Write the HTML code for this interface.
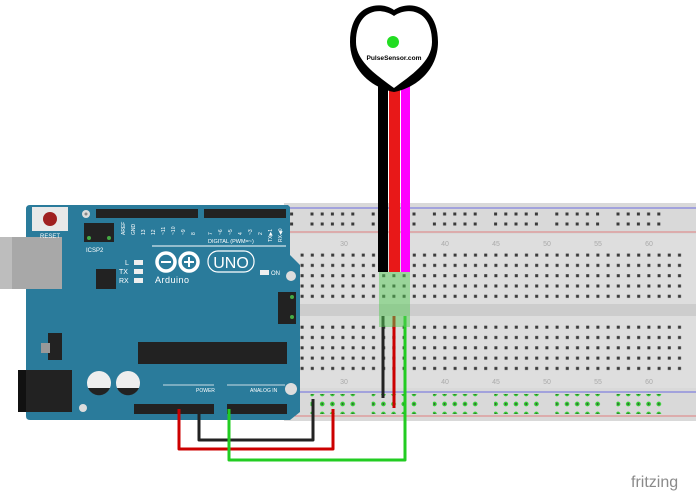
<!DOCTYPE html>
<html><head><meta charset="utf-8"><style>html,body{margin:0;padding:0;background:#fff}svg{display:block}</style></head>
<body>
<svg width="696" height="491" viewBox="0 0 696 491" xmlns="http://www.w3.org/2000/svg" font-family="Liberation Sans, sans-serif">
<defs>
<pattern id="g" x="297" y="250" width="10.2" height="10.3" patternUnits="userSpaceOnUse"><rect x="3.6" y="3.6" width="3" height="3" fill="#3a3a3a"/></pattern>
<pattern id="r" x="310.5" y="0" width="61.2" height="10" patternUnits="userSpaceOnUse">
<g fill="#3a3a3a"><rect x="0" y="2.5" width="3" height="3"/><rect x="10.2" y="2.5" width="3" height="3"/><rect x="20.4" y="2.5" width="3" height="3"/><rect x="30.6" y="2.5" width="3" height="3"/><rect x="40.8" y="2.5" width="3" height="3"/></g></pattern>
<pattern id="rg" x="310.5" y="0" width="61.2" height="10" patternUnits="userSpaceOnUse">
<g fill="#3a3a3a" stroke="#3c3" stroke-width="1.5"><circle cx="1.5" cy="4" r="1.6"/><circle cx="11.7" cy="4" r="1.6"/><circle cx="21.9" cy="4" r="1.6"/><circle cx="32.1" cy="4" r="1.6"/><circle cx="42.3" cy="4" r="1.6"/></g></pattern>
</defs>
<!-- breadboard -->
<rect x="284" y="203" width="412" height="218" fill="#d9d9d9"/>
<rect x="284" y="234" width="412" height="70" fill="#dedede"/>
<rect x="284" y="304" width="412" height="12" fill="#cdcdcd"/>
<rect x="284" y="316" width="412" height="72" fill="#dedede"/>
<line x1="284" y1="208" x2="696" y2="208" stroke="#6a6ae0" stroke-width="1"/>
<line x1="284" y1="232" x2="696" y2="232" stroke="#e08080" stroke-width="1"/>
<line x1="284" y1="392" x2="696" y2="392" stroke="#6a6ae0" stroke-width="1"/>
<line x1="284" y1="416" x2="696" y2="416" stroke="#e08080" stroke-width="1"/>
<rect x="290" y="210" width="375" height="20" fill="url(#r)"/>
<rect x="290" y="394" width="375" height="20" fill="url(#rg)"/>
<rect x="297" y="250" width="388" height="51.5" fill="url(#g)"/>
<rect x="297" y="322" width="388" height="51.5" fill="url(#g)"/>
<g font-size="7" fill="#aaa" text-anchor="middle">
<text x="344" y="246">30</text><text x="445" y="246">40</text><text x="496" y="246">45</text><text x="547" y="246">50</text><text x="598" y="246">55</text><text x="649" y="246">60</text>
<text x="344" y="384">30</text><text x="445" y="384">40</text><text x="496" y="384">45</text><text x="547" y="384">50</text><text x="598" y="384">55</text><text x="649" y="384">60</text>
</g>
<!-- arduino -->
<path d="M30 205 H288 L290 207 V255 L300 265 V412 L290 420 H30 Q26 420 26 416 V209 Q26 205 30 205Z" fill="#2a7b9b"/>
<rect x="0" y="237" width="62" height="52" fill="#a8a8a8"/><rect x="0" y="237" width="12" height="52" fill="#bdbdbd"/>
<rect x="32" y="207" width="36" height="24" fill="#e8e8e8"/><circle cx="50" cy="219" r="7" fill="#a02020"/>
<text x="50" y="238" font-size="6" fill="#fff" text-anchor="middle">RESET</text>
<circle cx="86" cy="214" r="4" fill="#ddd"/><circle cx="86" cy="214" r="1.5" fill="#888"/>
<rect x="96" y="209" width="102" height="9" fill="#222"/><rect x="204" y="209" width="82" height="9" fill="#222"/>
<g fill="#fff" font-size="5" >
<text transform="translate(125,235) rotate(-90)">AREF</text><text transform="translate(135,235) rotate(-90)">GND</text><text transform="translate(145,235) rotate(-90)">13</text><text transform="translate(155,235) rotate(-90)">12</text><text transform="translate(165,235) rotate(-90)">~11</text><text transform="translate(175,235) rotate(-90)">~10</text><text transform="translate(185,235) rotate(-90)">~9</text><text transform="translate(195,235) rotate(-90)">8</text>
<text transform="translate(212,235) rotate(-90)">7</text><text transform="translate(222,235) rotate(-90)">~6</text><text transform="translate(232,235) rotate(-90)">~5</text><text transform="translate(242,235) rotate(-90)">4</text><text transform="translate(252,235) rotate(-90)">~3</text><text transform="translate(262,235) rotate(-90)">2</text><text transform="translate(272,242) rotate(-90)">TX▶1</text><text transform="translate(282,242) rotate(-90)">RX◀0</text>
</g>
<rect x="84" y="223" width="30" height="19" fill="#222"/>
<g fill="#4a4"><circle cx="89" cy="238" r="2"/><circle cx="109" cy="238" r="2"/></g>
<text x="86" y="252" font-size="6" fill="#fff">ICSP2</text>
<text x="208" y="243" font-size="5.5" fill="#fff">DIGITAL (PWM=~)</text>
<line x1="152" y1="246" x2="286" y2="246" stroke="#fff" stroke-width="1"/>
<rect x="134" y="260" width="9" height="5" fill="#eee"/><text x="125" y="265" font-size="7" fill="#fff">L</text>
<rect x="134" y="269" width="9" height="5" fill="#eee"/><text x="119" y="274" font-size="7" fill="#fff">TX</text>
<rect x="134" y="278" width="9" height="5" fill="#eee"/><text x="119" y="283" font-size="7" fill="#fff">RX</text>
<rect x="96" y="269" width="20" height="20" fill="#222"/>
<g fill="none" stroke="#fff" stroke-width="3.5"><circle cx="166" cy="262" r="9"/><circle cx="189" cy="262" r="9"/></g>
<g stroke="#fff" stroke-width="2"><line x1="161" y1="262" x2="171" y2="262"/><line x1="184" y1="262" x2="194" y2="262"/><line x1="189" y1="257" x2="189" y2="267"/></g>
<rect x="208" y="251" width="46" height="21" rx="10" fill="none" stroke="#fff" stroke-width="1.2"/>
<text x="231" y="268" font-size="16" fill="#fff" text-anchor="middle">UNO</text>
<text x="155" y="283" font-size="9" fill="#fff" letter-spacing="0.5">Arduino</text>
<rect x="260" y="270" width="9" height="5" fill="#eee"/><text x="271" y="275" font-size="6" fill="#fff">ON</text>
<circle cx="291" cy="276" r="5" fill="#ddd"/>
<rect x="278" y="292" width="18" height="32" fill="#222"/>
<g fill="#4a4"><circle cx="292" cy="297" r="2"/><circle cx="292" cy="317" r="2"/></g>
<rect x="48" y="333" width="14" height="27" fill="#222"/><rect x="41" y="343" width="9" height="10" fill="#999"/>
<rect x="138" y="342" width="149" height="22" fill="#222"/>
<rect x="18" y="370" width="54" height="42" fill="#222"/><rect x="18" y="370" width="8" height="42" fill="#111"/>
<circle cx="99" cy="383" r="12" fill="#eee"/><path d="M88 388 A12 12 0 0 0 110 388Z" fill="#222"/>
<circle cx="128" cy="383" r="12" fill="#eee"/><path d="M117 388 A12 12 0 0 0 139 388Z" fill="#222"/>
<circle cx="83" cy="408" r="4" fill="#ddd"/>
<circle cx="291" cy="389" r="6" fill="#ddd"/>
<line x1="163" y1="385" x2="214" y2="385" stroke="#fff" stroke-width="0.8"/><line x1="227" y1="385" x2="285" y2="385" stroke="#fff" stroke-width="0.8"/>
<text x="196" y="392" font-size="5" fill="#fff">POWER</text><text x="250" y="392" font-size="5" fill="#fff">ANALOG IN</text>
<rect x="134" y="404" width="80" height="10" fill="#222"/><rect x="227" y="404" width="60" height="10" fill="#222"/>
<!-- wires bottom -->
<g fill="none" stroke-linejoin="round">
<path d="M199 409 V440 H313 V399" stroke="#222" stroke-width="3"/>
<path d="M179 409 V449 H333 V409" stroke="#c00" stroke-width="3"/>
<path d="M229 409 V460 H405 V316" stroke="#2c2" stroke-width="3"/>
<path d="M383 316 V398" stroke="#222" stroke-width="3"/>
<path d="M394 316 V408" stroke="#c00" stroke-width="3"/>
</g>
<!-- sensor cable -->
<rect x="378" y="84" width="10" height="188" fill="#000"/>
<rect x="389" y="84" width="11" height="188" fill="#e81818"/>
<rect x="401" y="84" width="9" height="188" fill="#f0f"/>
<rect x="379" y="272" width="31" height="55" fill="#5c5" opacity="0.5"/>
<!-- sensor -->
<path d="M394 10 C380 0 350 4 350 42 C350 70 372 88 394 92 C416 88 438 70 438 42 C438 4 408 0 394 10Z" fill="#000"/>
<path d="M394 16 C380 6 356 10 356 42 C356 62 378 76 394 88 C410 76 432 62 432 42 C432 10 408 6 394 16Z" fill="#fff"/>
<circle cx="393" cy="42" r="6" fill="#2d2"/>
<text x="394" y="60" font-size="6.6" font-weight="bold" text-anchor="middle">PulseSensor.com</text>
<text x="631" y="487" font-size="16" fill="#8a8a8a">fritzing</text>
</svg>
</body></html>
